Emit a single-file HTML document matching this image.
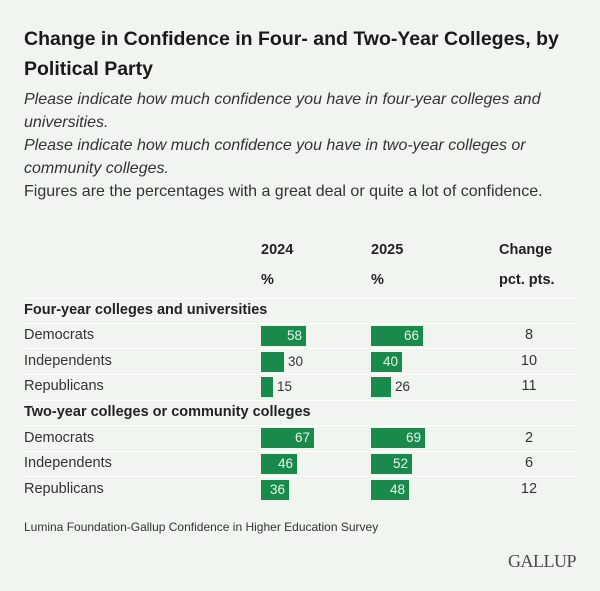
<!DOCTYPE html>
<html><head><meta charset="utf-8"><style>
body{margin:0;width:600px;height:591px;background:#f0f6ef;font-family:"Liberation Sans",sans-serif;color:#222;position:relative;overflow:hidden}
div{position:absolute;white-space:nowrap}
.t{left:24px;font-size:19.5px;font-weight:bold;color:#1a1a1a}
.s{left:24px;font-size:16px;font-style:italic;color:#333}
.h{font-size:14.5px;font-weight:bold;color:#222}
.sec{left:24px;font-size:14.5px;font-weight:bold;color:#222}
.l{left:24px;font-size:14.5px;color:#333}
.b{height:20px;background:#198a4c;color:#e8f5ec;font-size:13.5px;text-align:right;line-height:20px;box-sizing:border-box;padding-right:4px}
.o{font-size:13.5px;color:#333;line-height:20px}
.c{font-size:14.5px;color:#333;width:60px;text-align:center;left:499px}
.sep{left:24px;width:553px;height:1px;background:#fff}
</style></head><body>
<div class="t" style="top:28px">Change in Confidence in Four- and Two-Year Colleges, by</div>
<div class="t" style="top:58px">Political Party</div>
<div class="s" style="top:91px">Please indicate how much confidence you have in four-year colleges and</div>
<div class="s" style="top:114px">universities.</div>
<div class="s" style="top:137px">Please indicate how much confidence you have in two-year colleges or</div>
<div class="s" style="top:160px">community colleges.</div>
<div class="s" style="top:183px;font-style:normal">Figures are the percentages with a great deal or quite a lot of confidence.</div>
<div class="h" style="top:242px;left:261px">2024</div>
<div class="h" style="top:242px;left:371px">2025</div>
<div class="h" style="top:242px;left:499px">Change</div>
<div class="h" style="top:272px;left:261px">%</div>
<div class="h" style="top:272px;left:371px">%</div>
<div class="h" style="top:272px;left:499px">pct. pts.</div>
<div class="sep" style="top:298px"></div>
<div class="sec" style="top:302px">Four-year colleges and universities</div>
<div class="sep" style="top:323px"></div>
<div class="l" style="top:327px">Democrats</div>
<div class="b" style="top:326px;left:261px;width:45px">58</div>
<div class="b" style="top:326px;left:371px;width:52px">66</div>
<div class="c" style="top:327px">8</div>
<div class="sep" style="top:348px"></div>
<div class="l" style="top:353px">Independents</div>
<div class="b" style="top:352px;left:261px;width:23px"></div><div class="o" style="top:352px;left:288px">30</div>
<div class="b" style="top:352px;left:371px;width:31px">40</div>
<div class="c" style="top:353px">10</div>
<div class="sep" style="top:374px"></div>
<div class="l" style="top:378px">Republicans</div>
<div class="b" style="top:377px;left:261px;width:12px"></div><div class="o" style="top:377px;left:277px">15</div>
<div class="b" style="top:377px;left:371px;width:20px"></div><div class="o" style="top:377px;left:395px">26</div>
<div class="c" style="top:378px">11</div>
<div class="sep" style="top:400px"></div>
<div class="sec" style="top:404px">Two-year colleges or community colleges</div>
<div class="sep" style="top:425px"></div>
<div class="l" style="top:430px">Democrats</div>
<div class="b" style="top:428px;left:261px;width:53px">67</div>
<div class="b" style="top:428px;left:371px;width:54px">69</div>
<div class="c" style="top:430px">2</div>
<div class="sep" style="top:451px"></div>
<div class="l" style="top:455px">Independents</div>
<div class="b" style="top:454px;left:261px;width:36px">46</div>
<div class="b" style="top:454px;left:371px;width:41px">52</div>
<div class="c" style="top:455px">6</div>
<div class="sep" style="top:476px"></div>
<div class="l" style="top:481px">Republicans</div>
<div class="b" style="top:480px;left:261px;width:28px">36</div>
<div class="b" style="top:480px;left:371px;width:38px">48</div>
<div class="c" style="top:481px">12</div>
<div style="top:520px;left:24px;font-size:12px;color:#333">Lumina Foundation-Gallup Confidence in Higher Education Survey</div>
<div style="top:551px;left:508px;font-family:'Liberation Serif',serif;font-size:18px;color:#4a4a4a;letter-spacing:-0.5px">GALLUP</div>
</body></html>
